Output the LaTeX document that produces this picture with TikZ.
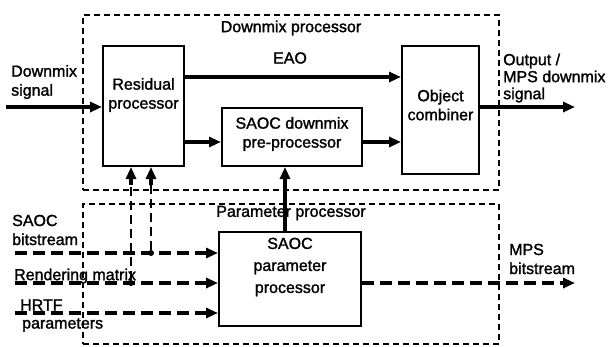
\documentclass[tikz,border=0pt]{standalone}
\usepackage{fontspec}
\setmainfont{Liberation Sans}[BoldFont={Liberation Sans},BoldFeatures={FakeBold=1.5}]
\usetikzlibrary{arrows.meta,calc}
\begin{document}
\begin{tikzpicture}[x=1pt,y=-1pt,
  blk/.style={draw, line width=2pt, inner sep=0pt},
  txt/.style={font=\fontsize{16}{19}\selectfont\bfseries, align=center, inner sep=0pt},
  ltxt/.style={txt, align=left, anchor=west},
  frame/.style={draw, line width=2.2pt, dash pattern=on 6pt off 4pt, inner sep=0pt},
  arr/.style={line width=3.2pt, -{Triangle[length=12pt,width=10pt]}},
  darr/.style={arr, dash pattern=on 12pt off 6pt},
  vdash/.style={line width=2.4pt, dash pattern=on 9pt off 5pt},
  dot/.style={circle, fill, inner sep=0pt, minimum size=6pt}]
\useasboundingbox (0,0) rectangle (611,346);
% frames
\node[frame, minimum width=416pt, minimum height=175pt] (dmp) at (291,102.5) {};
\node[frame, minimum width=416pt, minimum height=140pt] (pp) at (291,274) {};
\node[txt] (dmpt) at (291,28) {Downmix processor};
\node[txt] (ppt) at (291,213) {Parameter processor};
% blocks
\node[blk, minimum width=81pt, minimum height=120pt] (res) at (143.5,106) {};
\node[txt] (rest) at (143.5,95) {Residual\\processor};
\node[blk, minimum width=140pt, minimum height=58pt] (sdm) at (292,137) {};
\node[txt] (sdmt) at (292,134) {SAOC downmix\\pre-processor};
\node[blk, minimum width=77pt, minimum height=128pt] (obj) at (440.5,110) {};
\node[txt] (objt) at (440.5,105) {Object\\combiner};
\node[blk, minimum width=142pt, minimum height=94pt] (spp) at (290,279) {};
\node[txt, font=\fontsize{16}{22}\selectfont\bfseries] (sppt) at (290,267) {SAOC\\parameter\\processor};
% labels
\node[txt] (eao) at (290,58) {EAO};
\node[ltxt] (dsig) at (11,82) {Downmix\\signal};
\node[ltxt, font=\fontsize{16}{17}\selectfont\bfseries] (osig) at (503,78) {Output /\\MPS downmix\\signal};
\node[ltxt] (sbl) at (12,230) {SAOC\\bitstream};
\node[ltxt] (rml) at (14,276) {Rendering matrix};
\node[ltxt] (hrl) at (20,305) {HRTF};
\node[ltxt] (hpl) at (22,325) {parameters};
\node[ltxt] (mpsl) at (509,259) {MPS\\bitstream};
% free ends
\coordinate (in) at (6,107);
\coordinate (out) at (575,107);
\coordinate (sb) at (15,253);
\coordinate (rm) at (15,283);
\coordinate (hr) at (15,313);
\coordinate (mps) at (575,283);
\coordinate (j1) at (131,185);
\coordinate (j2) at (151,185);
% connectors
\draw[arr] (in) -- (res.west |- in);
\draw[arr] (res.east |- 0,77) -- (obj.west |- 0,77);
\draw[arr] (res.east |- 0,142) -- (sdm.west |- 0,142);
\draw[arr] (sdm.east |- 0,142) -- (obj.west |- 0,142);
\draw[arr] (obj.east |- out) -- (out);
\draw[arr] (spp.north -| 285,0) -- (sdm.south -| 285,0);
\draw[darr] (sb) -- (spp.west |- sb);
\draw[darr] (rm) -- (spp.west |- rm);
\draw[darr] (hr) -- (spp.west |- hr);
\draw[darr] (spp.east |- mps) -- (mps);
\node[dot] (d1) at (131,283) {};
\node[dot] (d2) at (151,253) {};
\draw[vdash] (d1) -- (j1);
\draw[vdash] (d2) -- (j2);
\draw[arr] (j1) -- (res.south -| j1);
\draw[arr] (j2) -- (res.south -| j2);
\end{tikzpicture}
\end{document}
